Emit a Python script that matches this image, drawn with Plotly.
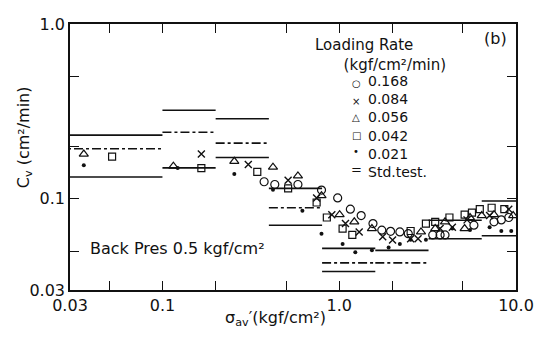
import plotly.graph_objects as go

# ---- data ----
# loading rate 0.168 (open circles)
c_x = [0.376, 0.432, 0.584, 0.794, 0.980, 1.156, 1.331, 1.552, 1.741, 1.952, 2.203, 2.458, 3.381, 3.721, 3.967, 5.78, 7.51, 8.26, 9.10]
c_y = [0.125, 0.1205, 0.1205, 0.112, 0.101, 0.0871, 0.080, 0.072, 0.066, 0.065, 0.0645, 0.063, 0.062, 0.062, 0.062, 0.0705, 0.0737, 0.0756, 0.078]
# loading rate 0.084 (crosses)
x_x = [0.166, 0.306, 0.514, 0.745, 0.908, 1.085, 1.297, 1.762, 2.003, 2.535, 2.792, 3.721, 4.365, 5.285, 7.09, 9.10]
x_y = [0.180, 0.157, 0.1275, 0.101, 0.081, 0.072, 0.0645, 0.0605, 0.058, 0.059, 0.059, 0.0674, 0.0687, 0.0756, 0.080, 0.0871]
# loading rate 0.056 (open triangles)
t_x = [0.0359, 0.1153, 0.255, 0.422, 0.584, 0.794, 1.005, 1.217, 1.531, 2.901, 3.491, 3.967, 5.122, 5.495, 6.40, 7.51, 9.64]
t_y = [0.180, 0.1535, 0.1636, 0.1515, 0.135, 0.104, 0.081, 0.0737, 0.0674, 0.0645, 0.0674, 0.0737, 0.0674, 0.078, 0.080, 0.081, 0.080]
# loading rate 0.042 (open squares)
s_x = [0.0519, 0.166, 0.344, 0.514, 0.745, 0.851, 1.045, 1.186, 2.535, 3.093, 3.491, 4.202, 5.122, 5.636, 6.24, 7.28, 8.59]
s_y = [0.174, 0.1496, 0.1422, 0.1145, 0.0951, 0.078, 0.0674, 0.062, 0.0653, 0.0719, 0.0737, 0.078, 0.081, 0.0832, 0.0871, 0.0887, 0.0871]
# loading rate 0.021 (dots)
d_x = [0.0359, 0.122, 0.255, 0.422, 0.619, 0.794, 1.045, 1.233, 1.531, 1.903, 2.203, 2.535, 3.093, 4.365, 5.495, 7.09, 8.26, 9.40]
d_y = [0.1554, 0.1496, 0.1386, 0.1123, 0.0853, 0.0629, 0.055, 0.0493, 0.0506, 0.0526, 0.055, 0.0582, 0.0582, 0.0674, 0.0662, 0.0687, 0.0653, 0.0653]

# standard test: load stages and three cv values per stage
stage_lo = [0.025, 0.1, 0.2, 0.4, 0.8, 1.6, 3.2, 6.4]
stage_hi = [0.1, 0.2, 0.4, 0.8, 1.6, 3.2, 6.4, 12.8]
std_top = [0.231, 0.321, 0.287, 0.1145, 0.0519, 0.0506, 0.0752, 0.097]
std_mid = [0.193, 0.240, 0.208, 0.0887, 0.0429, 0.0429, None, None]
std_bot = [0.133, 0.150, 0.172, 0.0705, 0.0383, None, 0.059, 0.0613]

x_tickvals = [0.03, 0.05, 0.1, 0.2, 0.5, 1, 2, 5, 10]
x_ticktext = ["0.03", "", "0.1", "", "", "1.0", "", "", "10.0"]
y_tickvals = [0.03, 0.05, 0.1, 0.2, 0.5, 1.0]
y_ticktext = ["0.03", "", "0.1", "", "", "1.0"]

rates = ["0.168", "0.084", "0.056", "0.042", "0.021"]
legend_glyphs = ["○", "×", "△", "□", "•"]

FONT = "DejaVu Sans"
INK = "#111111"
NB = "\u00a0"


def segs(vals):
    xs, ys = [], []
    for lo, hi, v in zip(stage_lo, stage_hi, vals):
        if v is None:
            continue
        xs += [lo, hi, None]
        ys += [v, v, None]
    return xs, ys


fig = go.Figure()

for vals, dash in [(std_top, "solid"), (std_mid, "dashdot"), (std_bot, "solid")]:
    sx, sy = segs(vals)
    fig.add_trace(go.Scatter(x=sx, y=sy, mode="lines",
                             line=dict(color=INK, width=1.6, dash=dash),
                             showlegend=False, hoverinfo="skip"))

series = [
    (c_x, c_y, "circle-open", 8, 1.2),
    (x_x, x_y, "x-thin-open", 7, 1.4),
    (t_x, t_y, "triangle-up-open", 8, 1.2),
    (s_x, s_y, "square-open", 7, 1.2),
    (d_x, d_y, "circle", 4, 0),
]
for (sx, sy, sym, size, lw), name in zip(series, rates):
    fig.add_trace(go.Scatter(x=sx, y=sy, mode="markers", name=name,
                             marker=dict(symbol=sym, size=size, color=INK,
                                         line=dict(color=INK, width=lw)),
                             showlegend=False))

axis_common = dict(type="log", showline=True, linecolor=INK, linewidth=1.6,
                   mirror="ticks", ticks="inside", ticklen=9, tickwidth=1.4,
                   tickcolor=INK, showgrid=False, zeroline=False,
                   ticklabeloverflow="allow",
                   tickfont=dict(family=FONT, size=16, color=INK))

fig.update_xaxes(range=[-1.5229, 1.0], tickmode="array",
                 tickvals=x_tickvals, ticktext=x_ticktext, **axis_common)
fig.update_yaxes(range=[-1.5229, 0.0], tickmode="array",
                 tickvals=y_tickvals, ticktext=y_ticktext, **axis_common)

ann = []
def txt(x, y, s, size=16, xanchor="left", **kw):
    ann.append(dict(x=x, y=y, xref="paper", yref="paper", text=s, showarrow=False,
                    xanchor=xanchor, yanchor="middle", align="left",
                    font=dict(family=FONT, size=size, color=INK), **kw))

# legend title block
txt(0.545, 0.8845, "Loading Rate<br>" + NB * 6 + "(kgf/cm²/min)", size=15)
# legend glyphs
row_y = [0.7745, 0.709, 0.647, 0.582, 0.52]
for g, yy in zip(legend_glyphs, row_y):
    txt(0.642, yy, g, size=10, xanchor="center")
txt(0.642, 0.4545, "=", size=13, xanchor="center")
# legend labels as one block
txt(0.664, 0.6145, "<br>".join(rates + ["Std.test."]), size=14)

txt(0.954, 0.945, "(b)", xanchor="center")
txt(0.0396, 0.156, "Back Pres 0.5 kgf/cm²")
txt(-0.103, 0.5745, "C<sub>v</sub> (cm²/min)", xanchor="center", textangle=-90)
ann.append(dict(x=0.46, y=-0.109, xref="paper", yref="paper",
                text="σ<sub>av</sub>′(kgf/cm²)", showarrow=False,
                xanchor="center", yanchor="middle",
                font=dict(family=FONT, size=16, color=INK)))

# page body has an 8px margin: size the figure so the plot area lands at
# x 70..525, y 15..290 in the 549x345 window without overflow
fig.update_layout(width=533, height=329, autosize=False,
                  margin=dict(l=62, r=16, t=7, b=47),
                  paper_bgcolor="white", plot_bgcolor="white",
                  showlegend=False, annotations=ann)

fig.write_html("out.html")
